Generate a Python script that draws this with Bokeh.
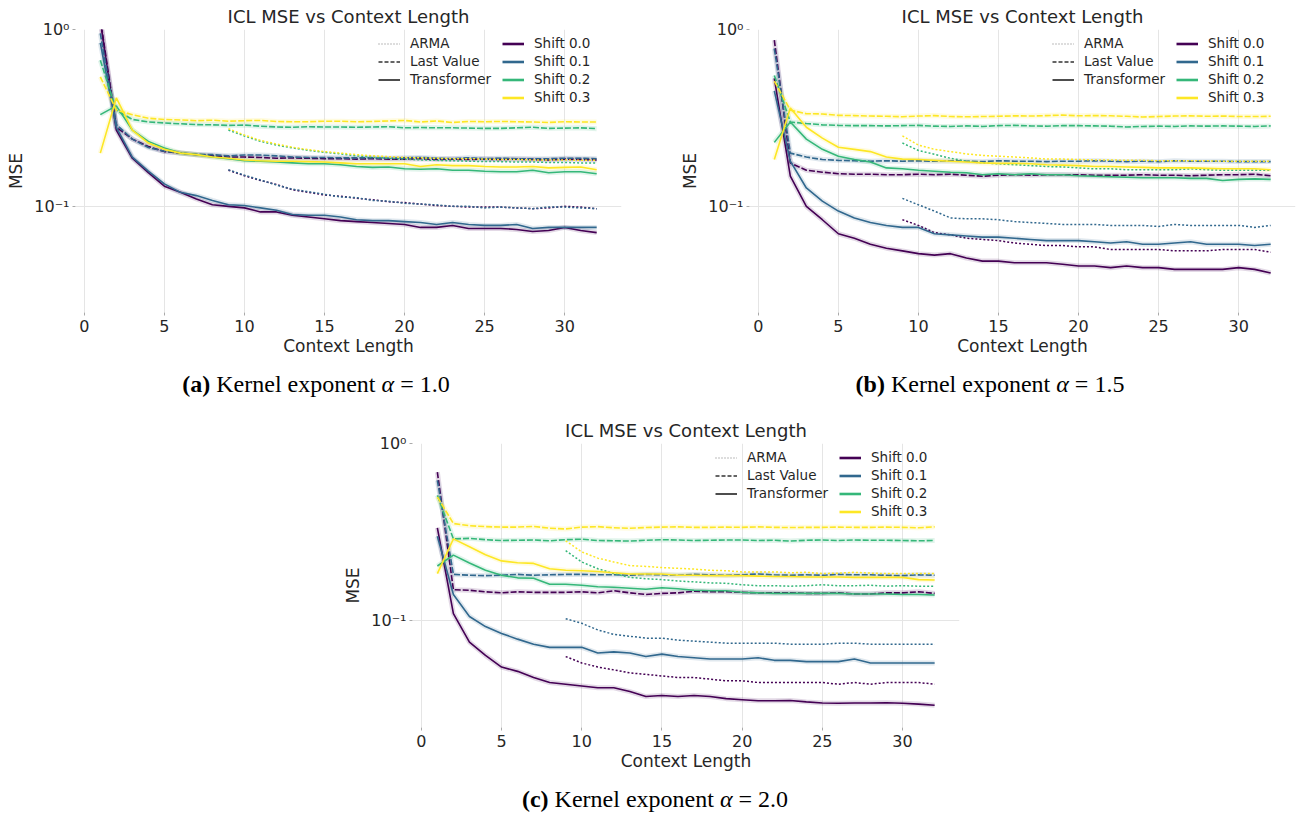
from bokeh.plotting import figure
from bokeh.models import (Range1d, FixedTicker, CustomJSTickFormatter, Legend,
                          LegendItem, Div, Spacer)
from bokeh.layouts import column, row
from bokeh.embed import file_html
from bokeh.resources import INLINE

# ---------------- data ----------------
CONTEXT = list(range(1, 33))
ARMA_CONTEXT = list(range(9, 33))
SHIFT_LABELS = ["Shift 0.0", "Shift 0.1", "Shift 0.2", "Shift 0.3"]
SHIFT_COLORS = ["#440154", "#31688e", "#35b779", "#fde725"]
METHOD_LABELS = ["ARMA", "Last Value", "Transformer"]
X_TICKS = [0, 5, 10, 15, 20, 25, 30]
Y_TICKS = [0.1, 1.0]
TITLE = "ICL MSE vs Context Length"
CAPTIONS = [("(a)", "1.0"), ("(b)", "1.5"), ("(c)", "2.0")]

# Panel (a): kernel exponent 1.0
A_TF = [
    [1.12, 0.27, 0.187, 0.155, 0.13, 0.12, 0.11, 0.102, 0.100, 0.098, 0.093, 0.093, 0.089, 0.087, 0.085, 0.083,
     0.082, 0.081, 0.080, 0.079, 0.076, 0.076, 0.078, 0.075, 0.075, 0.075, 0.074, 0.072, 0.073, 0.076, 0.073, 0.071],
    [0.84, 0.28, 0.19, 0.158, 0.134, 0.12, 0.115, 0.108, 0.102, 0.101, 0.098, 0.095, 0.090, 0.089, 0.089, 0.087,
     0.084, 0.083, 0.083, 0.082, 0.081, 0.079, 0.081, 0.079, 0.078, 0.078, 0.079, 0.075, 0.076, 0.076, 0.076, 0.076],
    [0.33, 0.37, 0.27, 0.233, 0.214, 0.200, 0.196, 0.190, 0.186, 0.181, 0.180, 0.178, 0.176, 0.174, 0.174, 0.172,
     0.168, 0.166, 0.167, 0.163, 0.162, 0.163, 0.160, 0.160, 0.158, 0.157, 0.157, 0.160, 0.155, 0.157, 0.157, 0.153],
    [0.20, 0.41, 0.27, 0.228, 0.210, 0.200, 0.196, 0.190, 0.187, 0.183, 0.181, 0.180, 0.180, 0.179, 0.178, 0.176,
     0.174, 0.174, 0.174, 0.174, 0.168, 0.172, 0.170, 0.170, 0.168, 0.167, 0.167, 0.168, 0.165, 0.166, 0.167, 0.161],
]
A_LV = [
    [1.15, 0.28, 0.24, 0.218, 0.204, 0.200, 0.196, 0.193, 0.190, 0.190, 0.189, 0.187, 0.188, 0.187, 0.186, 0.186,
     0.185, 0.186, 0.185, 0.185, 0.186, 0.184, 0.185, 0.184, 0.185, 0.184, 0.185, 0.184, 0.183, 0.185, 0.184, 0.183],
    [0.95, 0.29, 0.24, 0.215, 0.205, 0.200, 0.197, 0.196, 0.193, 0.195, 0.195, 0.193, 0.190, 0.189, 0.189, 0.188,
     0.188, 0.188, 0.187, 0.188, 0.189, 0.187, 0.186, 0.188, 0.186, 0.187, 0.186, 0.186, 0.186, 0.187, 0.187, 0.186],
    [0.67, 0.35, 0.31, 0.30, 0.296, 0.293, 0.290, 0.289, 0.287, 0.288, 0.284, 0.281, 0.280, 0.282, 0.281, 0.281,
     0.280, 0.281, 0.282, 0.278, 0.279, 0.278, 0.278, 0.277, 0.276, 0.276, 0.278, 0.280, 0.276, 0.277, 0.278, 0.275],
    [0.54, 0.35, 0.33, 0.315, 0.310, 0.308, 0.305, 0.307, 0.303, 0.305, 0.306, 0.302, 0.301, 0.301, 0.303, 0.303,
     0.301, 0.302, 0.304, 0.306, 0.300, 0.304, 0.298, 0.302, 0.301, 0.302, 0.301, 0.300, 0.298, 0.301, 0.300, 0.300],
]
A_ARMA = [
    [0.160, 0.149, 0.140, 0.133, 0.124, 0.120, 0.116, 0.114, 0.111, 0.109, 0.106, 0.105, 0.103, 0.101, 0.100,
     0.099, 0.099, 0.099, 0.098, 0.097, 0.098, 0.100, 0.099, 0.097],
    [0.161, 0.150, 0.141, 0.132, 0.125, 0.121, 0.117, 0.113, 0.112, 0.108, 0.107, 0.104, 0.103, 0.102, 0.100,
     0.100, 0.098, 0.099, 0.098, 0.097, 0.099, 0.099, 0.098, 0.097],
    [0.270, 0.250, 0.233, 0.222, 0.214, 0.207, 0.202, 0.198, 0.193, 0.190, 0.187, 0.185, 0.183, 0.182, 0.181,
     0.180, 0.179, 0.179, 0.178, 0.178, 0.177, 0.177, 0.176, 0.176],
    [0.275, 0.253, 0.236, 0.225, 0.216, 0.209, 0.204, 0.200, 0.196, 0.193, 0.191, 0.189, 0.188, 0.187, 0.186,
     0.186, 0.185, 0.184, 0.184, 0.183, 0.183, 0.183, 0.182, 0.182],
]

# Panel (b): kernel exponent 1.5
B_TF = [
    [0.53, 0.148, 0.100, 0.084, 0.070, 0.066, 0.061, 0.058, 0.056, 0.054, 0.053, 0.054, 0.051, 0.049, 0.049, 0.048,
     0.048, 0.048, 0.047, 0.046, 0.046, 0.045, 0.046, 0.045, 0.045, 0.044, 0.044, 0.044, 0.044, 0.045, 0.044, 0.042],
    [0.45, 0.18, 0.127, 0.107, 0.094, 0.086, 0.081, 0.078, 0.076, 0.076, 0.070, 0.069, 0.068, 0.067, 0.067, 0.066,
     0.065, 0.064, 0.064, 0.064, 0.063, 0.062, 0.063, 0.061, 0.061, 0.062, 0.063, 0.061, 0.061, 0.061, 0.060, 0.061],
    [0.23, 0.30, 0.24, 0.21, 0.192, 0.184, 0.178, 0.165, 0.163, 0.160, 0.158, 0.156, 0.155, 0.151, 0.153, 0.151,
     0.153, 0.151, 0.151, 0.149, 0.148, 0.147, 0.146, 0.145, 0.145, 0.145, 0.144, 0.144, 0.140, 0.142, 0.143, 0.142],
    [0.184, 0.36, 0.28, 0.243, 0.216, 0.210, 0.204, 0.190, 0.185, 0.184, 0.182, 0.180, 0.178, 0.176, 0.175, 0.175,
     0.174, 0.172, 0.171, 0.170, 0.168, 0.168, 0.167, 0.166, 0.165, 0.165, 0.165, 0.164, 0.163, 0.163, 0.163, 0.161],
]
B_LV = [
    [0.87, 0.176, 0.160, 0.156, 0.153, 0.152, 0.152, 0.151, 0.151, 0.152, 0.151, 0.152, 0.150, 0.148, 0.150, 0.151,
     0.150, 0.151, 0.151, 0.151, 0.150, 0.150, 0.150, 0.151, 0.150, 0.150, 0.149, 0.150, 0.151, 0.151, 0.152, 0.149],
    [0.78, 0.20, 0.19, 0.184, 0.182, 0.181, 0.180, 0.181, 0.180, 0.181, 0.180, 0.181, 0.180, 0.179, 0.181, 0.180,
     0.180, 0.179, 0.180, 0.180, 0.181, 0.180, 0.179, 0.180, 0.179, 0.181, 0.180, 0.180, 0.180, 0.179, 0.179, 0.179],
    [0.55, 0.30, 0.294, 0.289, 0.287, 0.286, 0.286, 0.285, 0.286, 0.287, 0.284, 0.283, 0.285, 0.283, 0.286, 0.287,
     0.285, 0.284, 0.286, 0.286, 0.285, 0.284, 0.281, 0.283, 0.284, 0.283, 0.285, 0.284, 0.285, 0.284, 0.283, 0.285],
    [0.51, 0.35, 0.334, 0.333, 0.327, 0.326, 0.324, 0.323, 0.321, 0.324, 0.326, 0.322, 0.321, 0.322, 0.323, 0.325,
     0.324, 0.326, 0.328, 0.325, 0.326, 0.325, 0.323, 0.320, 0.322, 0.324, 0.325, 0.323, 0.324, 0.322, 0.322, 0.323],
]
B_ARMA = [
    [0.084, 0.078, 0.071, 0.069, 0.066, 0.065, 0.064, 0.062, 0.061, 0.060, 0.060, 0.059, 0.059, 0.057, 0.057,
     0.057, 0.057, 0.056, 0.056, 0.056, 0.057, 0.057, 0.057, 0.055],
    [0.111, 0.102, 0.094, 0.086, 0.085, 0.085, 0.084, 0.082, 0.081, 0.080, 0.079, 0.079, 0.079, 0.078, 0.078,
     0.078, 0.077, 0.079, 0.078, 0.078, 0.078, 0.078, 0.076, 0.078],
    [0.228, 0.207, 0.197, 0.187, 0.180, 0.176, 0.174, 0.172, 0.170, 0.168, 0.167, 0.165, 0.163, 0.163, 0.161,
     0.161, 0.161, 0.161, 0.163, 0.161, 0.160, 0.160, 0.160, 0.160],
    [0.250, 0.222, 0.210, 0.204, 0.198, 0.194, 0.192, 0.190, 0.188, 0.185, 0.185, 0.184, 0.183, 0.183, 0.182,
     0.182, 0.181, 0.181, 0.181, 0.181, 0.180, 0.180, 0.180, 0.180],
]

# Panel (c): kernel exponent 2.0
C_TF = [
    [0.335, 0.11, 0.076, 0.064, 0.055, 0.052, 0.048, 0.045, 0.044, 0.043, 0.042, 0.042, 0.040, 0.0375, 0.038,
     0.0375, 0.038, 0.0375, 0.0365, 0.036, 0.0355, 0.0355, 0.0356, 0.035, 0.0345, 0.0344, 0.0345, 0.0345, 0.0346,
     0.0344, 0.034, 0.0335],
    [0.30, 0.141, 0.106, 0.093, 0.085, 0.079, 0.074, 0.071, 0.071, 0.071, 0.066, 0.067, 0.066, 0.063, 0.065, 0.063,
     0.062, 0.061, 0.061, 0.061, 0.062, 0.060, 0.060, 0.059, 0.059, 0.059, 0.061, 0.058, 0.058, 0.058, 0.058, 0.058],
    [0.204, 0.235, 0.212, 0.193, 0.181, 0.175, 0.174, 0.161, 0.161, 0.159, 0.156, 0.155, 0.153, 0.151, 0.154,
     0.152, 0.149, 0.148, 0.148, 0.145, 0.144, 0.143, 0.143, 0.143, 0.143, 0.143, 0.142, 0.142, 0.142, 0.141,
     0.141, 0.140],
    [0.185, 0.29, 0.262, 0.236, 0.218, 0.213, 0.211, 0.197, 0.193, 0.192, 0.190, 0.187, 0.184, 0.184, 0.184, 0.181,
     0.181, 0.180, 0.180, 0.180, 0.179, 0.178, 0.178, 0.177, 0.177, 0.177, 0.176, 0.176, 0.176, 0.176, 0.171, 0.170],
]
C_LV = [
    [0.69, 0.150, 0.149, 0.146, 0.144, 0.146, 0.145, 0.145, 0.145, 0.146, 0.144, 0.148, 0.144, 0.141, 0.143, 0.144,
     0.147, 0.146, 0.146, 0.145, 0.144, 0.144, 0.144, 0.143, 0.143, 0.144, 0.142, 0.142, 0.144, 0.144, 0.146, 0.143],
    [0.62, 0.183, 0.181, 0.180, 0.181, 0.183, 0.181, 0.182, 0.183, 0.183, 0.182, 0.182, 0.181, 0.183, 0.182, 0.181,
     0.183, 0.182, 0.181, 0.182, 0.184, 0.182, 0.181, 0.182, 0.181, 0.183, 0.182, 0.182, 0.181, 0.180, 0.182, 0.181],
    [0.51, 0.29, 0.292, 0.287, 0.284, 0.285, 0.286, 0.283, 0.287, 0.289, 0.284, 0.283, 0.282, 0.285, 0.287, 0.286,
     0.284, 0.285, 0.286, 0.286, 0.284, 0.285, 0.282, 0.285, 0.286, 0.284, 0.286, 0.285, 0.285, 0.284, 0.283, 0.284],
    [0.50, 0.354, 0.344, 0.340, 0.338, 0.338, 0.341, 0.333, 0.330, 0.338, 0.340, 0.335, 0.333, 0.336, 0.338, 0.339,
     0.337, 0.337, 0.338, 0.337, 0.339, 0.337, 0.336, 0.337, 0.337, 0.338, 0.337, 0.337, 0.338, 0.337, 0.335, 0.339],
]
C_ARMA = [
    [0.063, 0.058, 0.055, 0.053, 0.051, 0.050, 0.049, 0.048, 0.048, 0.047, 0.046, 0.046, 0.045, 0.045, 0.045,
     0.045, 0.045, 0.044, 0.045, 0.044, 0.045, 0.045, 0.045, 0.044],
    [0.103, 0.097, 0.089, 0.084, 0.082, 0.080, 0.080, 0.078, 0.077, 0.076, 0.075, 0.075, 0.075, 0.075, 0.074,
     0.074, 0.074, 0.075, 0.075, 0.074, 0.074, 0.074, 0.074, 0.074],
    [0.249, 0.215, 0.197, 0.185, 0.176, 0.173, 0.171, 0.168, 0.166, 0.164, 0.163, 0.160, 0.158, 0.158, 0.157,
     0.158, 0.160, 0.158, 0.158, 0.159, 0.157, 0.158, 0.157, 0.157],
    [0.283, 0.245, 0.226, 0.215, 0.205, 0.203, 0.200, 0.198, 0.196, 0.193, 0.192, 0.189, 0.189, 0.189, 0.187,
     0.188, 0.185, 0.186, 0.188, 0.186, 0.185, 0.185, 0.185, 0.185],
]

# off-frame points used only to give legend handles a drawable glyph
HANDLE_X = [-9, -8]
HANDLE_Y = [0.5, 0.5]

# ---------------- styling ----------------
FONT = "DejaVu Sans"
TEXT_COLOR = "#262626"
GRID_COLOR = "#e5e5e5"


def make_panel(tf, lv, arma, top_border, right_border, frame_w, frame_h):
    p = figure(frame_width=frame_w, frame_height=frame_h, y_axis_type="log",
               x_range=Range1d(-0.55, 33.55), y_range=Range1d(0.0251, 1.0),
               output_backend="svg", toolbar_location=None,
               min_border_left=75, min_border_right=right_border,
               min_border_top=top_border, min_border_bottom=50,
               title=TITLE, background_fill_color="white",
               border_fill_color="white", outline_line_color=None, margin=0)
    p.title.text_font = FONT
    p.title.text_font_size = "18px"
    p.title.text_font_style = "normal"
    p.title.text_color = TEXT_COLOR
    p.title.align = "center"
    p.title.standoff = 6

    p.xaxis.ticker = FixedTicker(ticks=X_TICKS)
    p.yaxis.ticker = FixedTicker(ticks=Y_TICKS)
    p.yaxis.formatter = CustomJSTickFormatter(
        code="return tick > 0.5 ? '10\u2070' : '10\u207b\u00b9';")
    p.xgrid.ticker = FixedTicker(ticks=X_TICKS)
    p.ygrid.ticker = FixedTicker(ticks=Y_TICKS)
    for g in (p.xgrid[0], p.ygrid[0]):
        g.grid_line_color = GRID_COLOR
        g.grid_line_width = 1
    for ax in (p.xaxis[0], p.yaxis[0]):
        ax.axis_line_color = None
        ax.major_tick_in = 0
        ax.major_tick_out = 3
        ax.major_tick_line_color = "#aaaaaa"
        ax.minor_tick_line_color = None
        ax.major_label_text_font = FONT
        ax.major_label_text_font_size = "16px"
        ax.major_label_text_color = TEXT_COLOR
        ax.axis_label_text_font = FONT
        ax.axis_label_text_font_size = "17px"
        ax.axis_label_text_font_style = "normal"
        ax.axis_label_text_color = TEXT_COLOR
    p.xaxis.axis_label = "Context Length"
    p.yaxis.axis_label = "MSE"
    p.xaxis.major_label_standoff = 4
    p.xaxis.axis_label_standoff = 1
    p.yaxis.major_label_standoff = 3
    p.yaxis.axis_label_standoff = 5

    # confidence bands (soft wide strokes)
    for i in range(4):
        c = SHIFT_COLORS[i]
        p.line(CONTEXT, lv[i], line_color=c, line_width=5, line_alpha=0.15)
        p.line(CONTEXT, tf[i], line_color=c, line_width=5, line_alpha=0.15)
    for i in range(4):
        c = SHIFT_COLORS[i]
        p.line(CONTEXT, lv[i], line_color=c, line_width=1.6, line_dash="6 2")
        p.line(CONTEXT, tf[i], line_color=c, line_width=1.6)
        p.line(ARMA_CONTEXT, arma[i], line_color=c, line_width=1.5, line_dash="2 2")

    # legend handles (their points lie outside the visible x range)
    r_arma = p.line(HANDLE_X, HANDLE_Y, line_color="#777777", line_width=1.0, line_dash="1 2")
    r_lv = p.line(HANDLE_X, HANDLE_Y, line_color="#333333", line_width=1.4, line_dash="4 2")
    r_tf = p.line(HANDLE_X, HANDLE_Y, line_color="#000000", line_width=1.4)
    shift_r = [p.line(HANDLE_X, HANDLE_Y, line_color=c, line_width=2.6) for c in SHIFT_COLORS]

    common = dict(background_fill_alpha=0, border_line_color=None, padding=0, margin=0,
                  spacing=2, glyph_width=22, glyph_height=15, label_height=15,
                  label_standoff=10, label_text_font=FONT, label_text_font_size="13.5px",
                  label_text_color=TEXT_COLOR)
    leg1 = Legend(items=[LegendItem(label=METHOD_LABELS[0], renderers=[r_arma]),
                         LegendItem(label=METHOD_LABELS[1], renderers=[r_lv]),
                         LegendItem(label=METHOD_LABELS[2], renderers=[r_tf])],
                  location=(303, frame_h - 58), **common)
    leg2 = Legend(items=[LegendItem(label=SHIFT_LABELS[i], renderers=[shift_r[i]]) for i in range(4)],
                  location=(427, frame_h - 76), **common)
    p.add_layout(leg1)
    p.add_layout(leg2)
    return p


def caption(tag, val, width, height):
    html = ('<div style="font-family:\'Liberation Serif\',\'Times New Roman\',serif;'
            'font-size:24px;line-height:1;padding-top:10px;text-align:center;color:#000;'
            'white-space:nowrap;width:%dpx;">'
            '<b>%s</b> Kernel exponent <i>\u03b1</i> = %s</div>' % (width, tag, val))
    return Div(text=html, width=width, height=height, margin=0)


pa = make_panel(A_TF, A_LV, A_ARMA, top_border=28, right_border=53, frame_w=546, frame_h=283)
pb = make_panel(B_TF, B_LV, B_ARMA, top_border=28, right_border=1, frame_w=546, frame_h=283)
pc = make_panel(C_TF, C_LV, C_ARMA, top_border=37, right_border=10, frame_w=547, frame_h=284)

cap_a = caption(CAPTIONS[0][0], CAPTIONS[0][1], 632, 44)
cap_b = caption(CAPTIONS[1][0], CAPTIONS[1][1], 400, 44)
cap_c = caption(CAPTIONS[2][0], CAPTIONS[2][1], 400, 37)

layout = column(
    row(pa, pb, spacing=0, margin=0),
    row(cap_a, Spacer(width=158, height=44, margin=0), cap_b, spacing=0, margin=0),
    row(Spacer(width=337, height=371, margin=0), pc, spacing=0, margin=0),
    row(Spacer(width=455, height=37, margin=0), cap_c, spacing=0, margin=0),
    spacing=0, margin=0,
)

open("out.html", "w").write(file_html(layout, INLINE))
